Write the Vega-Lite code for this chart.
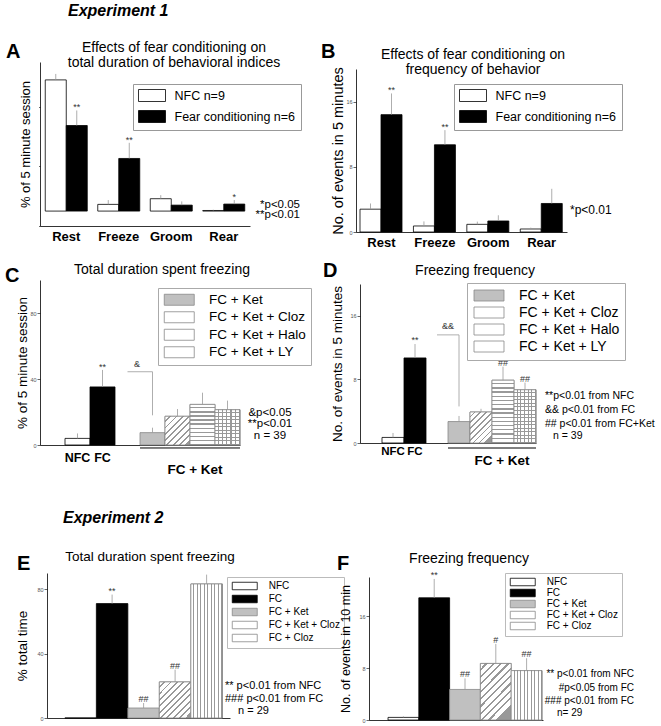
{
"$schema": "https://vega.github.io/schema/vega-lite/v6.json",
"padding": {"left": 5, "top": 2, "right": 2, "bottom": 2},
"spacing": 12,
"resolve": {"scale": {"fill": "independent"}, "legend": {"fill": "independent"}},
"config": {
  "font": "Liberation Sans",
  "view": {"stroke": null},
  "title": {"fontSize": 14, "fontWeight": "normal", "color": "#000", "lineHeight": 15, "baseline": "alphabetic", "font": "Liberation Sans"},
  "axis": {"domainColor": "#000", "domainWidth": 0.8, "tickColor": "#000", "tickWidth": 0.6, "labelColor": "#555", "labelFontSize": 5.5, "labelPadding": 1, "labelOverlap": false, "titleFontWeight": "normal", "titleColor": "#000", "grid": false},
  "text": {"font": "Liberation Sans"}
},
"vconcat": [
{
 "hconcat": [
  {
   "width": 210, "height": 164,
   "title": {"text": ["Effects of fear conditioning on", "total duration of behavioral indices"], "dx": 29, "offset": -28},
   "data": {"values": [
    {"behavior": "Rest", "group": "NFC", "mean": 88, "err": 92, "sig": ""},
    {"behavior": "Rest", "group": "FC", "mean": 57.4, "err": 67.5, "sig": "**"},
    {"behavior": "Freeze", "group": "NFC", "mean": 4.5, "err": 7.4, "sig": ""},
    {"behavior": "Freeze", "group": "FC", "mean": 35.3, "err": 45.8, "sig": "**"},
    {"behavior": "Groom", "group": "NFC", "mean": 8.3, "err": 10.7, "sig": ""},
    {"behavior": "Groom", "group": "FC", "mean": 4, "err": 6.5, "sig": ""},
    {"behavior": "Rear", "group": "NFC", "mean": 0.4, "err": 0.9, "sig": ""},
    {"behavior": "Rear", "group": "FC", "mean": 4.7, "err": 7.4, "sig": "*"}
   ]},
   "layer": [
    {"mark": {"type": "bar", "stroke": "#000", "strokeWidth": 0.8},
     "encoding": {
      "x": {"field": "behavior", "type": "nominal", "scale": {"domain": ["Rest", "Freeze", "Groom", "Rear"], "paddingInner": 0.2, "paddingOuter": 0.1}, "axis": {"title": null, "ticks": false, "labelAngle": 0, "labelFontSize": 13, "labelFontWeight": "bold", "labelColor": "#000", "labelPadding": 4}},
      "xOffset": {"field": "group", "type": "nominal", "scale": {"domain": ["NFC", "FC"]}},
      "y": {"field": "mean", "type": "quantitative", "scale": {"domain": [-10, 100], "nice": false, "zero": false}, "axis": {"title": "% of 5 minute session", "titleFontSize": 13, "titlePadding": 5, "values": [-10, 0, 10, 20, 30, 40, 50, 60, 70, 80, 90, 100], "labelExpr": "datum.value >= 0 && datum.value % 20 === 0 ? datum.label : ''", "tickSize": {"condition": {"test": "datum.value % 20 === 0", "value": 3}, "value": 1.5}}},
      "fill": {"field": "group", "type": "nominal", "scale": {"domain": ["NFC", "FC"], "range": ["#fff", "#000"]}, "legend": {"title": null, "orient": "none", "legendX": 93, "legendY": 22, "labelExpr": "datum.value === 'NFC' ? 'NFC n=9' : 'Fear conditioning n=6'", "symbolType": "M-2.25,-1H2.25V1H-2.25Z", "symbolSize": 144, "symbolOffset": 7.5, "symbolStrokeColor": "#000", "symbolStrokeWidth": 0.8, "labelFont": "Liberation Sans", "labelFontSize": 12.5, "labelColor": "#000", "labelOffset": 16, "rowPadding": 4, "padding": 5, "strokeColor": "#999", "fillColor": "#fff"}}
     }},
    {"mark": {"type": "rule", "color": "#999", "strokeWidth": 0.8},
     "encoding": {"x": {"field": "behavior", "type": "nominal"}, "xOffset": {"field": "group", "type": "nominal"}, "y": {"field": "mean", "type": "quantitative"}, "y2": {"field": "err"}}},
    {"transform": [{"filter": "datum.sig !== ''"}],
     "mark": {"type": "text", "fontSize": 9, "baseline": "alphabetic", "color": "#333"},
     "encoding": {"x": {"field": "behavior", "type": "nominal"}, "xOffset": {"field": "group", "type": "nominal"}, "y": {"field": "err", "type": "quantitative"}, "text": {"field": "sig"}}},
    {"data": {"values": [{}]},
     "mark": {"type": "text", "fontSize": 11.5, "align": "right", "baseline": "alphabetic", "lineHeight": 10.5, "dx": 50, "text": ["*p<0.05", "**p<0.01"]},
     "encoding": {"x": {"value": "width"}, "y": {"datum": 2.1, "type": "quantitative"}}},
    {"data": {"values": [{}]},
     "mark": {"type": "text", "fontSize": 20, "fontWeight": "bold", "align": "left", "baseline": "alphabetic", "dx": -34, "dy": -4, "text": "A"},
     "encoding": {"x": {"value": 0}, "y": {"datum": 100, "type": "quantitative"}}}
   ]
  },
  {
   "width": 211, "height": 170,
   "title": {"text": ["Effects of fear conditioning on", "frequency of behavior"], "dx": 11.5, "offset": -34.5},
   "data": {"values": [
    {"behavior": "Rest", "group": "NFC", "mean": 2.8, "err": 3.5, "sig": ""},
    {"behavior": "Rest", "group": "FC", "mean": 14.4, "err": 17.0, "sig": "**"},
    {"behavior": "Freeze", "group": "NFC", "mean": 0.74, "err": 1.3, "sig": ""},
    {"behavior": "Freeze", "group": "FC", "mean": 10.7, "err": 12.5, "sig": "**"},
    {"behavior": "Groom", "group": "NFC", "mean": 0.94, "err": 1.27, "sig": ""},
    {"behavior": "Groom", "group": "FC", "mean": 1.35, "err": 2.05, "sig": ""},
    {"behavior": "Rear", "group": "NFC", "mean": 0.37, "err": 0.53, "sig": ""},
    {"behavior": "Rear", "group": "FC", "mean": 3.5, "err": 5.3, "sig": ""}
   ]},
   "layer": [
    {"mark": {"type": "bar", "stroke": "#000", "strokeWidth": 0.8},
     "encoding": {
      "x": {"field": "behavior", "type": "nominal", "scale": {"domain": ["Rest", "Freeze", "Groom", "Rear"], "paddingInner": 0.2, "paddingOuter": 0.075}, "axis": {"title": null, "ticks": false, "labelAngle": 0, "labelFontSize": 13, "labelFontWeight": "bold", "labelColor": "#000", "labelPadding": 4}},
      "xOffset": {"field": "group", "type": "nominal", "scale": {"domain": ["NFC", "FC"]}},
      "y": {"field": "mean", "type": "quantitative", "scale": {"domain": [0, 20], "nice": false, "range": [170, 7]}, "axis": {"title": "No. of events in 5 minutes", "titleFontSize": 14.5, "titlePadding": 0, "values": [0, 1, 2, 3, 4, 5, 6, 7, 8, 9, 10, 11, 12, 13, 14, 15, 16, 17, 18, 19, 20], "labelExpr": "datum.value % 2 === 0 ? datum.label : ''", "tickSize": {"condition": {"test": "datum.value % 2 === 0", "value": 3}, "value": 1.5}}},
      "fill": {"field": "group", "type": "nominal", "scale": {"domain": ["NFC", "FC"], "range": ["#fff", "#000"]}, "legend": {"title": null, "orient": "none", "legendX": 98, "legendY": 22, "labelExpr": "datum.value === 'NFC' ? 'NFC n=9' : 'Fear conditioning n=6'", "symbolType": "M-2.25,-1H2.25V1H-2.25Z", "symbolSize": 144, "symbolOffset": 7.5, "symbolStrokeColor": "#000", "symbolStrokeWidth": 0.8, "labelFont": "Liberation Sans", "labelFontSize": 12.5, "labelColor": "#000", "labelOffset": 16, "rowPadding": 4, "padding": 5, "strokeColor": "#999", "fillColor": "#fff"}}
     }},
    {"mark": {"type": "rule", "color": "#999", "strokeWidth": 0.8},
     "encoding": {"x": {"field": "behavior", "type": "nominal"}, "xOffset": {"field": "group", "type": "nominal"}, "y": {"field": "mean", "type": "quantitative"}, "y2": {"field": "err"}}},
    {"transform": [{"filter": "datum.sig !== ''"}],
     "mark": {"type": "text", "fontSize": 9, "baseline": "alphabetic", "color": "#333"},
     "encoding": {"x": {"field": "behavior", "type": "nominal"}, "xOffset": {"field": "group", "type": "nominal"}, "y": {"field": "err", "type": "quantitative"}, "text": {"field": "sig"}}},
    {"data": {"values": [{}]},
     "mark": {"type": "text", "fontSize": 12, "align": "left", "baseline": "alphabetic", "dx": 3, "text": "*p<0.01"},
     "encoding": {"x": {"value": "width"}, "y": {"datum": 2.2, "type": "quantitative"}}},
    {"data": {"values": [{}]},
     "mark": {"type": "text", "fontSize": 20, "fontWeight": "bold", "align": "left", "baseline": "alphabetic", "dx": -35, "dy": -11, "text": "B"},
     "encoding": {"x": {"value": 0}, "y": {"datum": 20, "type": "quantitative"}}}
   ]
  }
 ],
 "spacing": 106,
 "bounds": "flush",
 "resolve": {"scale": {"fill": "independent"}, "legend": {"fill": "independent"}},
 "title": {"text": "Experiment 1", "anchor": "start", "frame": "group", "dx": 28, "offset": 22.5, "fontSize": 16, "fontWeight": "bold", "fontStyle": "italic"}
},
{
 "hconcat": [
  {
   "width": 200, "height": 165,
   "title": {"text": "Total duration spent freezing", "dx": 22, "offset": -11},
   "data": {"values": [
    {"cond": "NFC", "mean": 4, "err": 7, "sig": ""},
    {"cond": "FC", "mean": 35.2, "err": 45.5, "sig": "**"},
    {"cond": "FC + Ket", "mean": 7.5, "err": 10.5, "sig": ""},
    {"cond": "FC + Ket + Cloz", "mean": 17.4, "err": 21.8, "sig": ""},
    {"cond": "FC + Ket + Halo", "mean": 24.6, "err": 31.7, "sig": ""},
    {"cond": "FC + Ket + LY", "mean": 21.4, "err": 26.9, "sig": ""}
   ]},
   "layer": [
    {"mark": {"type": "bar", "strokeWidth": 0.8},
     "encoding": {
      "x": {"field": "cond", "type": "nominal", "scale": {"domain": ["s0", "NFC", "FC", "s1", "FC + Ket", "FC + Ket + Cloz", "FC + Ket + Halo", "FC + Ket + LY"], "paddingInner": 0, "paddingOuter": 0}, "axis": {"title": null, "ticks": false, "labelAngle": 0, "labelExpr": "datum.value === 'NFC' || datum.value === 'FC' ? datum.value : ''", "labelFontSize": 12.5, "labelFontWeight": "bold", "labelColor": "#000", "labelPadding": 6}},
      "y": {"field": "mean", "type": "quantitative", "scale": {"domain": [0, 100], "nice": false}, "axis": {"title": "% of 5 minute session", "titleFontSize": 13.5, "titlePadding": 0, "values": [0, 10, 20, 30, 40, 50, 60, 70, 80, 90, 100], "labelExpr": "datum.value % 20 === 0 ? datum.label : ''", "tickSize": {"condition": {"test": "datum.value % 20 === 0", "value": 3}, "value": 1.5}}},
      "fill": {"field": "cond", "type": "nominal", "scale": {"domain": ["NFC", "FC", "FC + Ket", "FC + Ket + Cloz", "FC + Ket + Halo", "FC + Ket + LY"], "range": ["#fff", "#000", "#c0c0c0", "#fff", "#fff", "#fff"]},
       "legend": {"values": ["FC + Ket", "FC + Ket + Cloz", "FC + Ket + Halo", "FC + Ket + LY"], "title": null, "orient": "none", "legendX": 118, "legendY": 8, "symbolType": "M-2.727,-1H2.727V1H-2.727Z", "symbolSize": 121, "symbolOffset": 9.5, "symbolStrokeColor": "#888", "symbolStrokeWidth": 0.8, "labelFont": "Liberation Sans", "labelFontSize": 13.5, "labelColor": "#000", "labelOffset": 23, "rowPadding": 2.5, "padding": 5, "strokeColor": "#aaa", "fillColor": "#fff",
        "encode": {"symbols": {"update": {"fill": [
         {"test": "datum.value === 'FC + Ket + Cloz'", "value": "#e4e4e4"},
         {"test": "datum.value === 'FC + Ket + Halo'", "value": "#ececec"},
         {"test": "datum.value === 'FC + Ket + LY'", "value": "#dedede"},
         {"value": "#c0c0c0"}], "stroke": {"value": "#888"}, "strokeWidth": {"value": 0.8}}}}}},
      "stroke": {"condition": {"test": "datum.cond === 'NFC' || datum.cond === 'FC'", "value": "#000"}, "value": "#888"}
     }},
    {"transform": [{"filter": "datum.cond === 'FC + Ket + Cloz'"}],
     "mark": {"type": "bar", "stroke": "#888", "strokeWidth": 0.8, "fill": {"gradient": "linear", "x1": 0, "y1": 0, "x2": 0.87, "y2": 1, "stops": [{"offset":0,"color":"#fff"},{"offset":0.0875,"color":"#fff"},{"offset":0.0875,"color":"#999"},{"offset":0.125,"color":"#999"},{"offset":0.125,"color":"#fff"},{"offset":0.2125,"color":"#fff"},{"offset":0.2125,"color":"#999"},{"offset":0.25,"color":"#999"},{"offset":0.25,"color":"#fff"},{"offset":0.3375,"color":"#fff"},{"offset":0.3375,"color":"#999"},{"offset":0.375,"color":"#999"},{"offset":0.375,"color":"#fff"},{"offset":0.4625,"color":"#fff"},{"offset":0.4625,"color":"#999"},{"offset":0.5,"color":"#999"},{"offset":0.5,"color":"#fff"},{"offset":0.5875,"color":"#fff"},{"offset":0.5875,"color":"#999"},{"offset":0.625,"color":"#999"},{"offset":0.625,"color":"#fff"},{"offset":0.7125,"color":"#fff"},{"offset":0.7125,"color":"#999"},{"offset":0.75,"color":"#999"},{"offset":0.75,"color":"#fff"},{"offset":0.8375,"color":"#fff"},{"offset":0.8375,"color":"#999"},{"offset":0.875,"color":"#999"},{"offset":0.875,"color":"#fff"},{"offset":0.9625,"color":"#fff"},{"offset":0.9625,"color":"#999"},{"offset":1,"color":"#999"}]}},
     "encoding": {"x": {"field": "cond", "type": "nominal"}, "y": {"field": "mean", "type": "quantitative"}}},
    {"transform": [{"filter": "datum.cond === 'FC + Ket + Halo'"}],
     "mark": {"type": "bar", "stroke": "#888", "strokeWidth": 0.8, "fill": {"gradient": "linear", "x1": 0, "y1": 0, "x2": 0, "y2": 1, "stops": [{"offset":0,"color":"#fff"},{"offset":0.07,"color":"#fff"},{"offset":0.07,"color":"#999"},{"offset":0.1,"color":"#999"},{"offset":0.1,"color":"#fff"},{"offset":0.17,"color":"#fff"},{"offset":0.17,"color":"#999"},{"offset":0.2,"color":"#999"},{"offset":0.2,"color":"#fff"},{"offset":0.27,"color":"#fff"},{"offset":0.27,"color":"#999"},{"offset":0.3,"color":"#999"},{"offset":0.3,"color":"#fff"},{"offset":0.37,"color":"#fff"},{"offset":0.37,"color":"#999"},{"offset":0.4,"color":"#999"},{"offset":0.4,"color":"#fff"},{"offset":0.47,"color":"#fff"},{"offset":0.47,"color":"#999"},{"offset":0.5,"color":"#999"},{"offset":0.5,"color":"#fff"},{"offset":0.57,"color":"#fff"},{"offset":0.57,"color":"#999"},{"offset":0.6,"color":"#999"},{"offset":0.6,"color":"#fff"},{"offset":0.67,"color":"#fff"},{"offset":0.67,"color":"#999"},{"offset":0.7,"color":"#999"},{"offset":0.7,"color":"#fff"},{"offset":0.77,"color":"#fff"},{"offset":0.77,"color":"#999"},{"offset":0.8,"color":"#999"},{"offset":0.8,"color":"#fff"},{"offset":0.87,"color":"#fff"},{"offset":0.87,"color":"#999"},{"offset":0.9,"color":"#999"},{"offset":0.9,"color":"#fff"},{"offset":0.97,"color":"#fff"},{"offset":0.97,"color":"#999"},{"offset":1,"color":"#999"}]}},
     "encoding": {"x": {"field": "cond", "type": "nominal"}, "y": {"field": "mean", "type": "quantitative"}}},
    {"transform": [{"filter": "datum.cond === 'FC + Ket + LY'"}],
     "mark": {"type": "bar", "strokeWidth": 0, "fill": {"gradient": "linear", "x1": 0, "y1": 0, "x2": 1, "y2": 0, "stops": [{"offset":0,"color":"#fff"},{"offset":0.1167,"color":"#fff"},{"offset":0.1167,"color":"#999"},{"offset":0.1667,"color":"#999"},{"offset":0.1667,"color":"#fff"},{"offset":0.2833,"color":"#fff"},{"offset":0.2833,"color":"#999"},{"offset":0.3333,"color":"#999"},{"offset":0.3333,"color":"#fff"},{"offset":0.45,"color":"#fff"},{"offset":0.45,"color":"#999"},{"offset":0.5,"color":"#999"},{"offset":0.5,"color":"#fff"},{"offset":0.6167,"color":"#fff"},{"offset":0.6167,"color":"#999"},{"offset":0.6667,"color":"#999"},{"offset":0.6667,"color":"#fff"},{"offset":0.7833,"color":"#fff"},{"offset":0.7833,"color":"#999"},{"offset":0.8333,"color":"#999"},{"offset":0.8333,"color":"#fff"},{"offset":0.95,"color":"#fff"},{"offset":0.95,"color":"#999"},{"offset":1,"color":"#999"}]}},
     "encoding": {"x": {"field": "cond", "type": "nominal"}, "y": {"field": "mean", "type": "quantitative"}}},
    {"transform": [{"filter": "datum.cond === 'FC + Ket + LY'"}],
     "mark": {"type": "bar", "stroke": "#888", "strokeWidth": 0.8, "fill": {"gradient": "linear", "x1": 0, "y1": 0, "x2": 0, "y2": 1, "stops": [{"offset":0,"color":"rgba(255,255,255,0)"},{"offset":0.07,"color":"rgba(255,255,255,0)"},{"offset":0.07,"color":"#999"},{"offset":0.1,"color":"#999"},{"offset":0.1,"color":"rgba(255,255,255,0)"},{"offset":0.17,"color":"rgba(255,255,255,0)"},{"offset":0.17,"color":"#999"},{"offset":0.2,"color":"#999"},{"offset":0.2,"color":"rgba(255,255,255,0)"},{"offset":0.27,"color":"rgba(255,255,255,0)"},{"offset":0.27,"color":"#999"},{"offset":0.3,"color":"#999"},{"offset":0.3,"color":"rgba(255,255,255,0)"},{"offset":0.37,"color":"rgba(255,255,255,0)"},{"offset":0.37,"color":"#999"},{"offset":0.4,"color":"#999"},{"offset":0.4,"color":"rgba(255,255,255,0)"},{"offset":0.47,"color":"rgba(255,255,255,0)"},{"offset":0.47,"color":"#999"},{"offset":0.5,"color":"#999"},{"offset":0.5,"color":"rgba(255,255,255,0)"},{"offset":0.57,"color":"rgba(255,255,255,0)"},{"offset":0.57,"color":"#999"},{"offset":0.6,"color":"#999"},{"offset":0.6,"color":"rgba(255,255,255,0)"},{"offset":0.67,"color":"rgba(255,255,255,0)"},{"offset":0.67,"color":"#999"},{"offset":0.7,"color":"#999"},{"offset":0.7,"color":"rgba(255,255,255,0)"},{"offset":0.77,"color":"rgba(255,255,255,0)"},{"offset":0.77,"color":"#999"},{"offset":0.8,"color":"#999"},{"offset":0.8,"color":"rgba(255,255,255,0)"},{"offset":0.87,"color":"rgba(255,255,255,0)"},{"offset":0.87,"color":"#999"},{"offset":0.9,"color":"#999"},{"offset":0.9,"color":"rgba(255,255,255,0)"},{"offset":0.97,"color":"rgba(255,255,255,0)"},{"offset":0.97,"color":"#999"},{"offset":1,"color":"#999"}]}},
     "encoding": {"x": {"field": "cond", "type": "nominal"}, "y": {"field": "mean", "type": "quantitative"}}},
    {"mark": {"type": "rule", "color": "#999", "strokeWidth": 0.8},
     "encoding": {"x": {"field": "cond", "type": "nominal"}, "y": {"field": "mean", "type": "quantitative"}, "y2": {"field": "err"}}},
    {"transform": [{"filter": "datum.sig !== ''"}],
     "mark": {"type": "text", "fontSize": 9, "baseline": "alphabetic", "color": "#333"},
     "encoding": {"x": {"field": "cond", "type": "nominal"}, "y": {"field": "err", "type": "quantitative"}, "text": {"field": "sig"}}},
    {"data": {"values": [{}]}, "mark": {"type": "rule", "color": "#999", "strokeWidth": 0.8},
     "encoding": {"x": {"datum": "FC + Ket", "type": "nominal", "bandPosition": 0.5}, "x2": {"datum": "s1"}, "y": {"datum": 44.4, "type": "quantitative"}}},
    {"data": {"values": [{}]}, "mark": {"type": "rule", "color": "#999", "strokeWidth": 0.8},
     "encoding": {"x": {"datum": "FC + Ket", "type": "nominal", "bandPosition": 0.5}, "y": {"datum": 44.4, "type": "quantitative"}, "y2": {"datum": 18}}},
    {"data": {"values": [{}]}, "mark": {"type": "text", "fontSize": 9, "baseline": "alphabetic", "color": "#333", "dx": -3, "text": "&"},
     "encoding": {"x": {"datum": "FC + Ket", "type": "nominal", "bandPosition": 0}, "y": {"datum": 47.3, "type": "quantitative"}}},
    {"data": {"values": [{}]}, "mark": {"type": "rule", "color": "#000", "strokeWidth": 1},
     "encoding": {"x": {"datum": "FC + Ket", "type": "nominal", "bandPosition": 0}, "x2": {"value": "width"}, "y": {"datum": -1.8, "type": "quantitative"}}},
    {"data": {"values": [{}]}, "mark": {"type": "text", "fontSize": 13.5, "fontWeight": "bold", "baseline": "alphabetic", "dx": 5, "text": "FC + Ket"},
     "encoding": {"x": {"datum": "FC + Ket + Halo", "type": "nominal", "bandPosition": 0}, "y": {"datum": -17.6, "type": "quantitative"}}},
    {"data": {"values": [{}]}, "mark": {"type": "text", "fontSize": 11.5, "align": "center", "baseline": "alphabetic", "lineHeight": 11.5, "dx": 30, "text": ["&p<0.05", "**p<0.01", "n = 39"]},
     "encoding": {"x": {"value": "width"}, "y": {"datum": 17.6, "type": "quantitative"}}},
    {"data": {"values": [{}]}, "mark": {"type": "text", "fontSize": 20, "fontWeight": "bold", "align": "left", "baseline": "alphabetic", "dx": -35, "dy": 2, "text": "C"},
     "encoding": {"x": {"value": 0}, "y": {"datum": 100, "type": "quantitative"}}}
   ]
  },
  {
   "width": 176, "height": 163,
   "title": {"text": "Freezing frequency", "dx": 27, "offset": -17},
   "data": {"values": [
    {"cond": "NFC", "mean": 0.7, "err": 1.26, "sig": ""},
    {"cond": "FC", "mean": 10.7, "err": 12.45, "sig": "**"},
    {"cond": "FC + Ket", "mean": 2.7, "err": 3.4, "sig": ""},
    {"cond": "FC + Ket + Cloz", "mean": 3.9, "err": 4.3, "sig": ""},
    {"cond": "FC + Ket + Halo", "mean": 7.9, "err": 9.6, "sig": "##"},
    {"cond": "FC + Ket + LY", "mean": 6.7, "err": 7.6, "sig": "##"}
   ]},
   "layer": [
    {"mark": {"type": "bar", "strokeWidth": 0.8},
     "encoding": {
      "x": {"field": "cond", "type": "nominal", "scale": {"domain": ["s0", "NFC", "FC", "s1", "FC + Ket", "FC + Ket + Cloz", "FC + Ket + Halo", "FC + Ket + LY"], "paddingInner": 0, "paddingOuter": 0}, "axis": {"title": null, "ticks": false, "labelAngle": 0, "labelExpr": "datum.value === 'NFC' || datum.value === 'FC' ? datum.value : ''", "labelFontSize": 11.5, "labelFontWeight": "bold", "labelColor": "#000", "labelPadding": 2}},
      "y": {"field": "mean", "type": "quantitative", "scale": {"domain": [0, 20], "nice": false, "range": [163, 4]}, "axis": {"title": "No. of events in 5 minutes", "titleFontSize": 13.5, "titlePadding": 5, "values": [0, 1, 2, 3, 4, 5, 6, 7, 8, 9, 10, 11, 12, 13, 14, 15, 16, 17, 18, 19, 20], "labelExpr": "datum.value % 2 === 0 ? datum.label : ''", "tickSize": {"condition": {"test": "datum.value % 2 === 0", "value": 3}, "value": 1.5}}},
      "fill": {"field": "cond", "type": "nominal", "scale": {"domain": ["NFC", "FC", "FC + Ket", "FC + Ket + Cloz", "FC + Ket + Halo", "FC + Ket + LY"], "range": ["#fff", "#000", "#c0c0c0", "#fff", "#fff", "#fff"]},
       "legend": {"values": ["FC + Ket", "FC + Ket + Cloz", "FC + Ket + Halo", "FC + Ket + LY"], "title": null, "orient": "none", "legendX": 107, "legendY": 3, "symbolType": "M-2.727,-1H2.727V1H-2.727Z", "symbolSize": 121, "symbolOffset": 9.5, "symbolStrokeColor": "#888", "symbolStrokeWidth": 0.8, "labelFont": "Liberation Sans", "labelFontSize": 14, "labelColor": "#000", "labelOffset": 23, "rowPadding": 1, "padding": 5.5, "strokeColor": "#aaa", "fillColor": "#fff",
        "encode": {"symbols": {"update": {"fill": [
         {"test": "datum.value === 'FC + Ket + Cloz'", "value": "#e4e4e4"},
         {"test": "datum.value === 'FC + Ket + Halo'", "value": "#ececec"},
         {"test": "datum.value === 'FC + Ket + LY'", "value": "#dedede"},
         {"value": "#c0c0c0"}], "stroke": {"value": "#888"}, "strokeWidth": {"value": 0.8}}}}}},
      "stroke": {"condition": {"test": "datum.cond === 'NFC' || datum.cond === 'FC'", "value": "#000"}, "value": "#888"}
     }},
    {"transform": [{"filter": "datum.cond === 'FC + Ket + Cloz'"}],
     "mark": {"type": "bar", "stroke": "#888", "strokeWidth": 0.8, "fill": {"gradient": "linear", "x1": 0, "y1": 0, "x2": 0.71, "y2": 1, "stops": [{"offset":0,"color":"#fff"},{"offset":0.0875,"color":"#fff"},{"offset":0.0875,"color":"#999"},{"offset":0.125,"color":"#999"},{"offset":0.125,"color":"#fff"},{"offset":0.2125,"color":"#fff"},{"offset":0.2125,"color":"#999"},{"offset":0.25,"color":"#999"},{"offset":0.25,"color":"#fff"},{"offset":0.3375,"color":"#fff"},{"offset":0.3375,"color":"#999"},{"offset":0.375,"color":"#999"},{"offset":0.375,"color":"#fff"},{"offset":0.4625,"color":"#fff"},{"offset":0.4625,"color":"#999"},{"offset":0.5,"color":"#999"},{"offset":0.5,"color":"#fff"},{"offset":0.5875,"color":"#fff"},{"offset":0.5875,"color":"#999"},{"offset":0.625,"color":"#999"},{"offset":0.625,"color":"#fff"},{"offset":0.7125,"color":"#fff"},{"offset":0.7125,"color":"#999"},{"offset":0.75,"color":"#999"},{"offset":0.75,"color":"#fff"},{"offset":0.8375,"color":"#fff"},{"offset":0.8375,"color":"#999"},{"offset":0.875,"color":"#999"},{"offset":0.875,"color":"#fff"},{"offset":0.9625,"color":"#fff"},{"offset":0.9625,"color":"#999"},{"offset":1,"color":"#999"}]}},
     "encoding": {"x": {"field": "cond", "type": "nominal"}, "y": {"field": "mean", "type": "quantitative"}}},
    {"transform": [{"filter": "datum.cond === 'FC + Ket + Halo'"}],
     "mark": {"type": "bar", "stroke": "#888", "strokeWidth": 0.8, "fill": {"gradient": "linear", "x1": 0, "y1": 0, "x2": 0, "y2": 1, "stops": [{"offset":0,"color":"#fff"},{"offset":0.0467,"color":"#fff"},{"offset":0.0467,"color":"#999"},{"offset":0.0667,"color":"#999"},{"offset":0.0667,"color":"#fff"},{"offset":0.1133,"color":"#fff"},{"offset":0.1133,"color":"#999"},{"offset":0.1333,"color":"#999"},{"offset":0.1333,"color":"#fff"},{"offset":0.18,"color":"#fff"},{"offset":0.18,"color":"#999"},{"offset":0.2,"color":"#999"},{"offset":0.2,"color":"#fff"},{"offset":0.2467,"color":"#fff"},{"offset":0.2467,"color":"#999"},{"offset":0.2667,"color":"#999"},{"offset":0.2667,"color":"#fff"},{"offset":0.3133,"color":"#fff"},{"offset":0.3133,"color":"#999"},{"offset":0.3333,"color":"#999"},{"offset":0.3333,"color":"#fff"},{"offset":0.38,"color":"#fff"},{"offset":0.38,"color":"#999"},{"offset":0.4,"color":"#999"},{"offset":0.4,"color":"#fff"},{"offset":0.4467,"color":"#fff"},{"offset":0.4467,"color":"#999"},{"offset":0.4667,"color":"#999"},{"offset":0.4667,"color":"#fff"},{"offset":0.5133,"color":"#fff"},{"offset":0.5133,"color":"#999"},{"offset":0.5333,"color":"#999"},{"offset":0.5333,"color":"#fff"},{"offset":0.58,"color":"#fff"},{"offset":0.58,"color":"#999"},{"offset":0.6,"color":"#999"},{"offset":0.6,"color":"#fff"},{"offset":0.6467,"color":"#fff"},{"offset":0.6467,"color":"#999"},{"offset":0.6667,"color":"#999"},{"offset":0.6667,"color":"#fff"},{"offset":0.7133,"color":"#fff"},{"offset":0.7133,"color":"#999"},{"offset":0.7333,"color":"#999"},{"offset":0.7333,"color":"#fff"},{"offset":0.78,"color":"#fff"},{"offset":0.78,"color":"#999"},{"offset":0.8,"color":"#999"},{"offset":0.8,"color":"#fff"},{"offset":0.8467,"color":"#fff"},{"offset":0.8467,"color":"#999"},{"offset":0.8667,"color":"#999"},{"offset":0.8667,"color":"#fff"},{"offset":0.9133,"color":"#fff"},{"offset":0.9133,"color":"#999"},{"offset":0.9333,"color":"#999"},{"offset":0.9333,"color":"#fff"},{"offset":0.98,"color":"#fff"},{"offset":0.98,"color":"#999"},{"offset":1,"color":"#999"}]}},
     "encoding": {"x": {"field": "cond", "type": "nominal"}, "y": {"field": "mean", "type": "quantitative"}}},
    {"transform": [{"filter": "datum.cond === 'FC + Ket + LY'"}],
     "mark": {"type": "bar", "strokeWidth": 0, "fill": {"gradient": "linear", "x1": 0, "y1": 0, "x2": 1, "y2": 0, "stops": [{"offset":0,"color":"#fff"},{"offset":0.1167,"color":"#fff"},{"offset":0.1167,"color":"#999"},{"offset":0.1667,"color":"#999"},{"offset":0.1667,"color":"#fff"},{"offset":0.2833,"color":"#fff"},{"offset":0.2833,"color":"#999"},{"offset":0.3333,"color":"#999"},{"offset":0.3333,"color":"#fff"},{"offset":0.45,"color":"#fff"},{"offset":0.45,"color":"#999"},{"offset":0.5,"color":"#999"},{"offset":0.5,"color":"#fff"},{"offset":0.6167,"color":"#fff"},{"offset":0.6167,"color":"#999"},{"offset":0.6667,"color":"#999"},{"offset":0.6667,"color":"#fff"},{"offset":0.7833,"color":"#fff"},{"offset":0.7833,"color":"#999"},{"offset":0.8333,"color":"#999"},{"offset":0.8333,"color":"#fff"},{"offset":0.95,"color":"#fff"},{"offset":0.95,"color":"#999"},{"offset":1,"color":"#999"}]}},
     "encoding": {"x": {"field": "cond", "type": "nominal"}, "y": {"field": "mean", "type": "quantitative"}}},
    {"transform": [{"filter": "datum.cond === 'FC + Ket + LY'"}],
     "mark": {"type": "bar", "stroke": "#888", "strokeWidth": 0.8, "fill": {"gradient": "linear", "x1": 0, "y1": 0, "x2": 0, "y2": 1, "stops": [{"offset":0,"color":"rgba(255,255,255,0)"},{"offset":0.0467,"color":"rgba(255,255,255,0)"},{"offset":0.0467,"color":"#999"},{"offset":0.0667,"color":"#999"},{"offset":0.0667,"color":"rgba(255,255,255,0)"},{"offset":0.1133,"color":"rgba(255,255,255,0)"},{"offset":0.1133,"color":"#999"},{"offset":0.1333,"color":"#999"},{"offset":0.1333,"color":"rgba(255,255,255,0)"},{"offset":0.18,"color":"rgba(255,255,255,0)"},{"offset":0.18,"color":"#999"},{"offset":0.2,"color":"#999"},{"offset":0.2,"color":"rgba(255,255,255,0)"},{"offset":0.2467,"color":"rgba(255,255,255,0)"},{"offset":0.2467,"color":"#999"},{"offset":0.2667,"color":"#999"},{"offset":0.2667,"color":"rgba(255,255,255,0)"},{"offset":0.3133,"color":"rgba(255,255,255,0)"},{"offset":0.3133,"color":"#999"},{"offset":0.3333,"color":"#999"},{"offset":0.3333,"color":"rgba(255,255,255,0)"},{"offset":0.38,"color":"rgba(255,255,255,0)"},{"offset":0.38,"color":"#999"},{"offset":0.4,"color":"#999"},{"offset":0.4,"color":"rgba(255,255,255,0)"},{"offset":0.4467,"color":"rgba(255,255,255,0)"},{"offset":0.4467,"color":"#999"},{"offset":0.4667,"color":"#999"},{"offset":0.4667,"color":"rgba(255,255,255,0)"},{"offset":0.5133,"color":"rgba(255,255,255,0)"},{"offset":0.5133,"color":"#999"},{"offset":0.5333,"color":"#999"},{"offset":0.5333,"color":"rgba(255,255,255,0)"},{"offset":0.58,"color":"rgba(255,255,255,0)"},{"offset":0.58,"color":"#999"},{"offset":0.6,"color":"#999"},{"offset":0.6,"color":"rgba(255,255,255,0)"},{"offset":0.6467,"color":"rgba(255,255,255,0)"},{"offset":0.6467,"color":"#999"},{"offset":0.6667,"color":"#999"},{"offset":0.6667,"color":"rgba(255,255,255,0)"},{"offset":0.7133,"color":"rgba(255,255,255,0)"},{"offset":0.7133,"color":"#999"},{"offset":0.7333,"color":"#999"},{"offset":0.7333,"color":"rgba(255,255,255,0)"},{"offset":0.78,"color":"rgba(255,255,255,0)"},{"offset":0.78,"color":"#999"},{"offset":0.8,"color":"#999"},{"offset":0.8,"color":"rgba(255,255,255,0)"},{"offset":0.8467,"color":"rgba(255,255,255,0)"},{"offset":0.8467,"color":"#999"},{"offset":0.8667,"color":"#999"},{"offset":0.8667,"color":"rgba(255,255,255,0)"},{"offset":0.9133,"color":"rgba(255,255,255,0)"},{"offset":0.9133,"color":"#999"},{"offset":0.9333,"color":"#999"},{"offset":0.9333,"color":"rgba(255,255,255,0)"},{"offset":0.98,"color":"rgba(255,255,255,0)"},{"offset":0.98,"color":"#999"},{"offset":1,"color":"#999"}]}},
     "encoding": {"x": {"field": "cond", "type": "nominal"}, "y": {"field": "mean", "type": "quantitative"}}},
    {"mark": {"type": "rule", "color": "#999", "strokeWidth": 0.8},
     "encoding": {"x": {"field": "cond", "type": "nominal"}, "y": {"field": "mean", "type": "quantitative"}, "y2": {"field": "err"}}},
    {"transform": [{"filter": "datum.sig !== ''"}],
     "mark": {"type": "text", "fontSize": 9, "baseline": "alphabetic", "color": "#333", "dy": -1},
     "encoding": {"x": {"field": "cond", "type": "nominal"}, "y": {"field": "err", "type": "quantitative"}, "text": {"field": "sig"}}},
    {"data": {"values": [{}]}, "mark": {"type": "rule", "color": "#999", "strokeWidth": 0.8},
     "encoding": {"x": {"datum": "FC + Ket", "type": "nominal", "bandPosition": 0.5}, "x2": {"datum": "s1"}, "y": {"datum": 13.6, "type": "quantitative"}}},
    {"data": {"values": [{}]}, "mark": {"type": "rule", "color": "#999", "strokeWidth": 0.8},
     "encoding": {"x": {"datum": "FC + Ket", "type": "nominal", "bandPosition": 0.5}, "y": {"datum": 13.6, "type": "quantitative"}, "y2": {"datum": 4.6}}},
    {"data": {"values": [{}]}, "mark": {"type": "text", "fontSize": 9, "baseline": "alphabetic", "color": "#333", "text": "&&"},
     "encoding": {"x": {"datum": "FC + Ket", "type": "nominal", "bandPosition": 0}, "y": {"datum": 14.3, "type": "quantitative"}}},
    {"data": {"values": [{}]}, "mark": {"type": "rule", "color": "#000", "strokeWidth": 1},
     "encoding": {"x": {"datum": "FC + Ket", "type": "nominal", "bandPosition": 0}, "x2": {"value": "width"}, "y": {"datum": -0.63, "type": "quantitative"}}},
    {"data": {"values": [{}]}, "mark": {"type": "text", "fontSize": 13.5, "fontWeight": "bold", "baseline": "alphabetic", "dx": 10, "text": "FC + Ket"},
     "encoding": {"x": {"datum": "FC + Ket + Halo", "type": "nominal", "bandPosition": 0}, "y": {"datum": -2.77, "type": "quantitative"}}},
    {"data": {"values": [{}]}, "mark": {"type": "text", "fontSize": 10.5, "align": "left", "baseline": "alphabetic", "lineHeight": 14, "dx": 9, "text": ["**p<0.01 from NFC", "&& p<0.01 from FC", "## p<0.01 from FC+Ket"]},
     "encoding": {"x": {"value": "width"}, "y": {"datum": 5.5, "type": "quantitative"}}},
    {"data": {"values": [{}]}, "mark": {"type": "text", "fontSize": 10.5, "align": "left", "baseline": "alphabetic", "dx": 17, "text": "n = 39"},
     "encoding": {"x": {"value": "width"}, "y": {"datum": 0.5, "type": "quantitative"}}},
    {"data": {"values": [{}]}, "mark": {"type": "text", "fontSize": 20, "fontWeight": "bold", "align": "left", "baseline": "alphabetic", "dx": -37, "dy": -7, "text": "D"},
     "encoding": {"x": {"value": 0}, "y": {"datum": 20, "type": "quantitative"}}}
   ]
  }
 ],
 "spacing": 120,
 "bounds": "flush",
 "resolve": {"scale": {"fill": "independent"}, "legend": {"fill": "independent"}}
},
{
 "hconcat": [
  {
   "width": 190, "height": 145,
   "title": {"text": "Total duration spent freezing", "fontSize": 13.5, "dx": 15, "offset": -9},
   "data": {"values": [
    {"cond": "NFC", "mean": 0, "err": 0, "sig": ""},
    {"cond": "FC", "mean": 71, "err": 76.6, "sig": "**"},
    {"cond": "FC + Ket", "mean": 6.2, "err": 9.3, "sig": "##"},
    {"cond": "FC + Ket + Cloz", "mean": 22.4, "err": 30, "sig": "##"},
    {"cond": "FC + Cloz", "mean": 83.2, "err": 89, "sig": ""}
   ]},
   "layer": [
    {"mark": {"type": "bar", "strokeWidth": 0.8},
     "encoding": {
      "x": {"field": "cond", "type": "nominal", "scale": {"domain": ["NFC", "FC", "FC + Ket", "FC + Ket + Cloz", "FC + Cloz"], "range": [7, 190], "paddingInner": 0, "paddingOuter": 0.405, "align": 0.7}, "axis": {"title": null, "ticks": false, "labels": false}},
      "y": {"field": "mean", "type": "quantitative", "scale": {"domain": [0, 90], "nice": false}, "axis": {"title": "% total time", "titleFontSize": 13.5, "titlePadding": 7, "offset": -7, "values": [0, 5, 10, 15, 20, 25, 30, 35, 40, 45, 50, 55, 60, 65, 70, 75, 80, 85, 90], "labelExpr": "datum.value % 10 === 0 ? datum.label : ''", "tickSize": {"condition": {"test": "datum.value % 10 === 0", "value": 3}, "value": 1.5}}},
      "fill": {"field": "cond", "type": "nominal", "scale": {"domain": ["NFC", "FC", "FC + Ket", "FC + Ket + Cloz", "FC + Cloz"], "range": ["#fff", "#000", "#c0c0c0", "#fff", "#fff"]},
       "legend": {"title": null, "orient": "none", "legendX": 187, "legendY": 4, "symbolType": "M-3.333,-1H3.333V1H-3.333Z", "symbolSize": 56.25, "symbolOffset": 8.75, "symbolStrokeColor": "#888", "symbolStrokeWidth": 0.8, "labelFont": "Liberation Sans", "labelFontSize": 10, "labelColor": "#000", "labelOffset": 19, "rowPadding": 1, "padding": 4, "strokeColor": "#bbb", "fillColor": "#fff",
        "encode": {"symbols": {"update": {"fill": [
         {"test": "datum.value === 'NFC'", "value": "#fff"},
         {"test": "datum.value === 'FC'", "value": "#000"},
         {"test": "datum.value === 'FC + Ket'", "value": "#c0c0c0"},
         {"test": "datum.value === 'FC + Ket + Cloz'", "value": "#e4e4e4"},
         {"value": "#ececec"}],
         "stroke": [{"test": "datum.value === 'NFC' || datum.value === 'FC'", "value": "#000"}, {"value": "#888"}], "strokeWidth": {"value": 0.8}}}}}},
      "stroke": {"condition": {"test": "datum.cond === 'NFC' || datum.cond === 'FC'", "value": "#000"}, "value": "#888"}
     }},
    {"transform": [{"filter": "datum.cond === 'FC + Ket + Cloz'"}],
     "mark": {"type": "bar", "stroke": "#888", "strokeWidth": 0.8, "fill": {"gradient": "linear", "x1": 0, "y1": 0, "x2": 0.875, "y2": 1, "stops": [{"offset":0,"color":"#fff"},{"offset":0.07,"color":"#fff"},{"offset":0.07,"color":"#999"},{"offset":0.1,"color":"#999"},{"offset":0.1,"color":"#fff"},{"offset":0.17,"color":"#fff"},{"offset":0.17,"color":"#999"},{"offset":0.2,"color":"#999"},{"offset":0.2,"color":"#fff"},{"offset":0.27,"color":"#fff"},{"offset":0.27,"color":"#999"},{"offset":0.3,"color":"#999"},{"offset":0.3,"color":"#fff"},{"offset":0.37,"color":"#fff"},{"offset":0.37,"color":"#999"},{"offset":0.4,"color":"#999"},{"offset":0.4,"color":"#fff"},{"offset":0.47,"color":"#fff"},{"offset":0.47,"color":"#999"},{"offset":0.5,"color":"#999"},{"offset":0.5,"color":"#fff"},{"offset":0.57,"color":"#fff"},{"offset":0.57,"color":"#999"},{"offset":0.6,"color":"#999"},{"offset":0.6,"color":"#fff"},{"offset":0.67,"color":"#fff"},{"offset":0.67,"color":"#999"},{"offset":0.7,"color":"#999"},{"offset":0.7,"color":"#fff"},{"offset":0.77,"color":"#fff"},{"offset":0.77,"color":"#999"},{"offset":0.8,"color":"#999"},{"offset":0.8,"color":"#fff"},{"offset":0.87,"color":"#fff"},{"offset":0.87,"color":"#999"},{"offset":0.9,"color":"#999"},{"offset":0.9,"color":"#fff"},{"offset":0.97,"color":"#fff"},{"offset":0.97,"color":"#999"},{"offset":1,"color":"#999"}]}},
     "encoding": {"x": {"field": "cond", "type": "nominal"}, "y": {"field": "mean", "type": "quantitative"}}},
    {"transform": [{"filter": "datum.cond === 'FC + Cloz'"}],
     "mark": {"type": "bar", "stroke": "#888", "strokeWidth": 0.8, "fill": {"gradient": "linear", "x1": 0, "y1": 0, "x2": 1, "y2": 0, "stops": [{"offset":0,"color":"#fff"},{"offset":0.0778,"color":"#fff"},{"offset":0.0778,"color":"#999"},{"offset":0.1111,"color":"#999"},{"offset":0.1111,"color":"#fff"},{"offset":0.1889,"color":"#fff"},{"offset":0.1889,"color":"#999"},{"offset":0.2222,"color":"#999"},{"offset":0.2222,"color":"#fff"},{"offset":0.3,"color":"#fff"},{"offset":0.3,"color":"#999"},{"offset":0.3333,"color":"#999"},{"offset":0.3333,"color":"#fff"},{"offset":0.4111,"color":"#fff"},{"offset":0.4111,"color":"#999"},{"offset":0.4444,"color":"#999"},{"offset":0.4444,"color":"#fff"},{"offset":0.5222,"color":"#fff"},{"offset":0.5222,"color":"#999"},{"offset":0.5556,"color":"#999"},{"offset":0.5556,"color":"#fff"},{"offset":0.6333,"color":"#fff"},{"offset":0.6333,"color":"#999"},{"offset":0.6667,"color":"#999"},{"offset":0.6667,"color":"#fff"},{"offset":0.7444,"color":"#fff"},{"offset":0.7444,"color":"#999"},{"offset":0.7778,"color":"#999"},{"offset":0.7778,"color":"#fff"},{"offset":0.8556,"color":"#fff"},{"offset":0.8556,"color":"#999"},{"offset":0.8889,"color":"#999"},{"offset":0.8889,"color":"#fff"},{"offset":0.9667,"color":"#fff"},{"offset":0.9667,"color":"#999"},{"offset":1,"color":"#999"}]}},
     "encoding": {"x": {"field": "cond", "type": "nominal"}, "y": {"field": "mean", "type": "quantitative"}}},
    {"mark": {"type": "rule", "color": "#999", "strokeWidth": 0.8},
     "encoding": {"x": {"field": "cond", "type": "nominal"}, "y": {"field": "mean", "type": "quantitative"}, "y2": {"field": "err"}}},
    {"transform": [{"filter": "datum.sig !== ''"}],
     "mark": {"type": "text", "fontSize": 9, "baseline": "alphabetic", "color": "#333", "dy": -1},
     "encoding": {"x": {"field": "cond", "type": "nominal"}, "y": {"field": "err", "type": "quantitative"}, "text": {"field": "sig"}}},
    {"data": {"values": [{}]}, "mark": {"type": "text", "fontSize": 11, "align": "left", "baseline": "alphabetic", "lineHeight": 13, "dx": -5, "text": ["** p<0.01 from NFC", "### p<0.01 from FC"]},
     "encoding": {"x": {"value": "width"}, "y": {"datum": 18, "type": "quantitative"}}},
    {"data": {"values": [{}]}, "mark": {"type": "text", "fontSize": 11, "align": "left", "baseline": "alphabetic", "dx": 8, "text": "n = 29"},
     "encoding": {"x": {"value": "width"}, "y": {"datum": 2.5, "type": "quantitative"}}},
    {"data": {"values": [{}]}, "mark": {"type": "text", "fontSize": 20, "fontWeight": "bold", "align": "left", "baseline": "alphabetic", "dx": -23, "dy": -3, "text": "E"},
     "encoding": {"x": {"value": 0}, "y": {"datum": 90, "type": "quantitative"}}}
   ]
  },
  {
   "width": 174, "height": 147,
   "title": {"text": "Freezing frequency", "dx": 13, "offset": -12},
   "data": {"values": [
    {"cond": "NFC", "mean": 0.4, "err": 0.56, "sig": ""},
    {"cond": "FC", "mean": 18.8, "err": 21.7, "sig": "**"},
    {"cond": "FC + Ket", "mean": 4.7, "err": 6.4, "sig": "##"},
    {"cond": "FC + Ket + Cloz", "mean": 8.7, "err": 11.7, "sig": "#"},
    {"cond": "FC + Cloz", "mean": 7.6, "err": 9.5, "sig": "##"}
   ]},
   "layer": [
    {"mark": {"type": "bar", "strokeWidth": 0.8},
     "encoding": {
      "x": {"field": "cond", "type": "nominal", "scale": {"domain": ["NFC", "FC", "FC + Ket", "FC + Ket + Cloz", "FC + Cloz"], "paddingInner": 0, "paddingOuter": 0.325, "align": 0.95}, "axis": {"title": null, "ticks": false, "labels": false}},
      "y": {"field": "mean", "type": "quantitative", "scale": {"domain": [0, 22], "nice": false, "range": [147, 4]}, "axis": {"title": "No. of events in 10 min", "titleFontSize": 12.5, "titlePadding": 6, "values": [0, 1, 2, 3, 4, 5, 6, 7, 8, 9, 10, 11, 12, 13, 14, 15, 16, 17, 18, 19, 20, 21, 22], "labelExpr": "datum.value % 2 === 0 ? datum.label : ''", "tickSize": {"condition": {"test": "datum.value % 2 === 0", "value": 3}, "value": 1.5}}},
      "fill": {"field": "cond", "type": "nominal", "scale": {"domain": ["NFC", "FC", "FC + Ket", "FC + Ket + Cloz", "FC + Cloz"], "range": ["#fff", "#000", "#c0c0c0", "#fff", "#fff"]},
       "legend": {"title": null, "orient": "none", "legendX": 136, "legendY": 0, "symbolType": "M-3.333,-1H3.333V1H-3.333Z", "symbolSize": 56.25, "symbolOffset": 8.75, "symbolStrokeColor": "#888", "symbolStrokeWidth": 0.8, "labelFont": "Liberation Sans", "labelFontSize": 10, "labelColor": "#000", "labelOffset": 19, "rowPadding": -2, "padding": 4, "strokeColor": "#bbb", "fillColor": "#fff",
        "encode": {"symbols": {"update": {"fill": [
         {"test": "datum.value === 'NFC'", "value": "#fff"},
         {"test": "datum.value === 'FC'", "value": "#000"},
         {"test": "datum.value === 'FC + Ket'", "value": "#c0c0c0"},
         {"test": "datum.value === 'FC + Ket + Cloz'", "value": "#e4e4e4"},
         {"value": "#ececec"}],
         "stroke": [{"test": "datum.value === 'NFC' || datum.value === 'FC'", "value": "#000"}, {"value": "#888"}], "strokeWidth": {"value": 0.8}}}}}},
      "stroke": {"condition": {"test": "datum.cond === 'NFC' || datum.cond === 'FC'", "value": "#000"}, "value": "#888"}
     }},
    {"transform": [{"filter": "datum.cond === 'FC + Ket + Cloz'"}],
     "mark": {"type": "bar", "stroke": "#888", "strokeWidth": 0.8, "fill": {"gradient": "linear", "x1": 0, "y1": 0, "x2": 0.55, "y2": 1, "stops": [{"offset":0,"color":"#fff"},{"offset":0.07,"color":"#fff"},{"offset":0.07,"color":"#999"},{"offset":0.1,"color":"#999"},{"offset":0.1,"color":"#fff"},{"offset":0.17,"color":"#fff"},{"offset":0.17,"color":"#999"},{"offset":0.2,"color":"#999"},{"offset":0.2,"color":"#fff"},{"offset":0.27,"color":"#fff"},{"offset":0.27,"color":"#999"},{"offset":0.3,"color":"#999"},{"offset":0.3,"color":"#fff"},{"offset":0.37,"color":"#fff"},{"offset":0.37,"color":"#999"},{"offset":0.4,"color":"#999"},{"offset":0.4,"color":"#fff"},{"offset":0.47,"color":"#fff"},{"offset":0.47,"color":"#999"},{"offset":0.5,"color":"#999"},{"offset":0.5,"color":"#fff"},{"offset":0.57,"color":"#fff"},{"offset":0.57,"color":"#999"},{"offset":0.6,"color":"#999"},{"offset":0.6,"color":"#fff"},{"offset":0.67,"color":"#fff"},{"offset":0.67,"color":"#999"},{"offset":0.7,"color":"#999"},{"offset":0.7,"color":"#fff"},{"offset":0.77,"color":"#fff"},{"offset":0.77,"color":"#999"},{"offset":0.8,"color":"#999"},{"offset":0.8,"color":"#fff"},{"offset":0.87,"color":"#fff"},{"offset":0.87,"color":"#999"},{"offset":0.9,"color":"#999"},{"offset":0.9,"color":"#fff"},{"offset":0.97,"color":"#fff"},{"offset":0.97,"color":"#999"},{"offset":1,"color":"#999"}]}},
     "encoding": {"x": {"field": "cond", "type": "nominal"}, "y": {"field": "mean", "type": "quantitative"}}},
    {"transform": [{"filter": "datum.cond === 'FC + Cloz'"}],
     "mark": {"type": "bar", "stroke": "#888", "strokeWidth": 0.8, "fill": {"gradient": "linear", "x1": 0, "y1": 0, "x2": 1, "y2": 0, "stops": [{"offset":0,"color":"#fff"},{"offset":0.0778,"color":"#fff"},{"offset":0.0778,"color":"#999"},{"offset":0.1111,"color":"#999"},{"offset":0.1111,"color":"#fff"},{"offset":0.1889,"color":"#fff"},{"offset":0.1889,"color":"#999"},{"offset":0.2222,"color":"#999"},{"offset":0.2222,"color":"#fff"},{"offset":0.3,"color":"#fff"},{"offset":0.3,"color":"#999"},{"offset":0.3333,"color":"#999"},{"offset":0.3333,"color":"#fff"},{"offset":0.4111,"color":"#fff"},{"offset":0.4111,"color":"#999"},{"offset":0.4444,"color":"#999"},{"offset":0.4444,"color":"#fff"},{"offset":0.5222,"color":"#fff"},{"offset":0.5222,"color":"#999"},{"offset":0.5556,"color":"#999"},{"offset":0.5556,"color":"#fff"},{"offset":0.6333,"color":"#fff"},{"offset":0.6333,"color":"#999"},{"offset":0.6667,"color":"#999"},{"offset":0.6667,"color":"#fff"},{"offset":0.7444,"color":"#fff"},{"offset":0.7444,"color":"#999"},{"offset":0.7778,"color":"#999"},{"offset":0.7778,"color":"#fff"},{"offset":0.8556,"color":"#fff"},{"offset":0.8556,"color":"#999"},{"offset":0.8889,"color":"#999"},{"offset":0.8889,"color":"#fff"},{"offset":0.9667,"color":"#fff"},{"offset":0.9667,"color":"#999"},{"offset":1,"color":"#999"}]}},
     "encoding": {"x": {"field": "cond", "type": "nominal"}, "y": {"field": "mean", "type": "quantitative"}}},
    {"mark": {"type": "rule", "color": "#999", "strokeWidth": 0.8},
     "encoding": {"x": {"field": "cond", "type": "nominal"}, "y": {"field": "mean", "type": "quantitative"}, "y2": {"field": "err"}}},
    {"transform": [{"filter": "datum.sig !== ''"}],
     "mark": {"type": "text", "fontSize": 9, "baseline": "alphabetic", "color": "#333", "dy": -1},
     "encoding": {"x": {"field": "cond", "type": "nominal"}, "y": {"field": "err", "type": "quantitative"}, "text": {"field": "sig"}}},
    {"data": {"values": [{}]}, "mark": {"type": "text", "fontSize": 10, "align": "right", "baseline": "alphabetic", "lineHeight": 13.5, "dx": 91, "text": ["** p<0.01 from NFC", "#p<0.05 from FC", "### p<0.01 from FC"]},
     "encoding": {"x": {"value": "width"}, "y": {"datum": 6.6, "type": "quantitative"}}},
    {"data": {"values": [{}]}, "mark": {"type": "text", "fontSize": 10, "align": "left", "baseline": "alphabetic", "dx": 14, "text": "n= 29"},
     "encoding": {"x": {"value": "width"}, "y": {"datum": 0.6, "type": "quantitative"}}},
    {"data": {"values": [{}]}, "mark": {"type": "text", "fontSize": 20, "fontWeight": "bold", "align": "left", "baseline": "alphabetic", "dx": -32, "dy": -7, "text": "F"},
     "encoding": {"x": {"value": 0}, "y": {"datum": 22, "type": "quantitative"}}}
   ]
  }
 ],
 "spacing": 139,
 "bounds": "flush",
 "resolve": {"scale": {"fill": "independent"}, "legend": {"fill": "independent"}},
 "title": {"text": ["", "Experiment 2"], "lineHeight": 20, "anchor": "start", "frame": "group", "dx": 23, "offset": 24, "fontSize": 16, "fontWeight": "bold", "fontStyle": "italic"}
}
]
}
